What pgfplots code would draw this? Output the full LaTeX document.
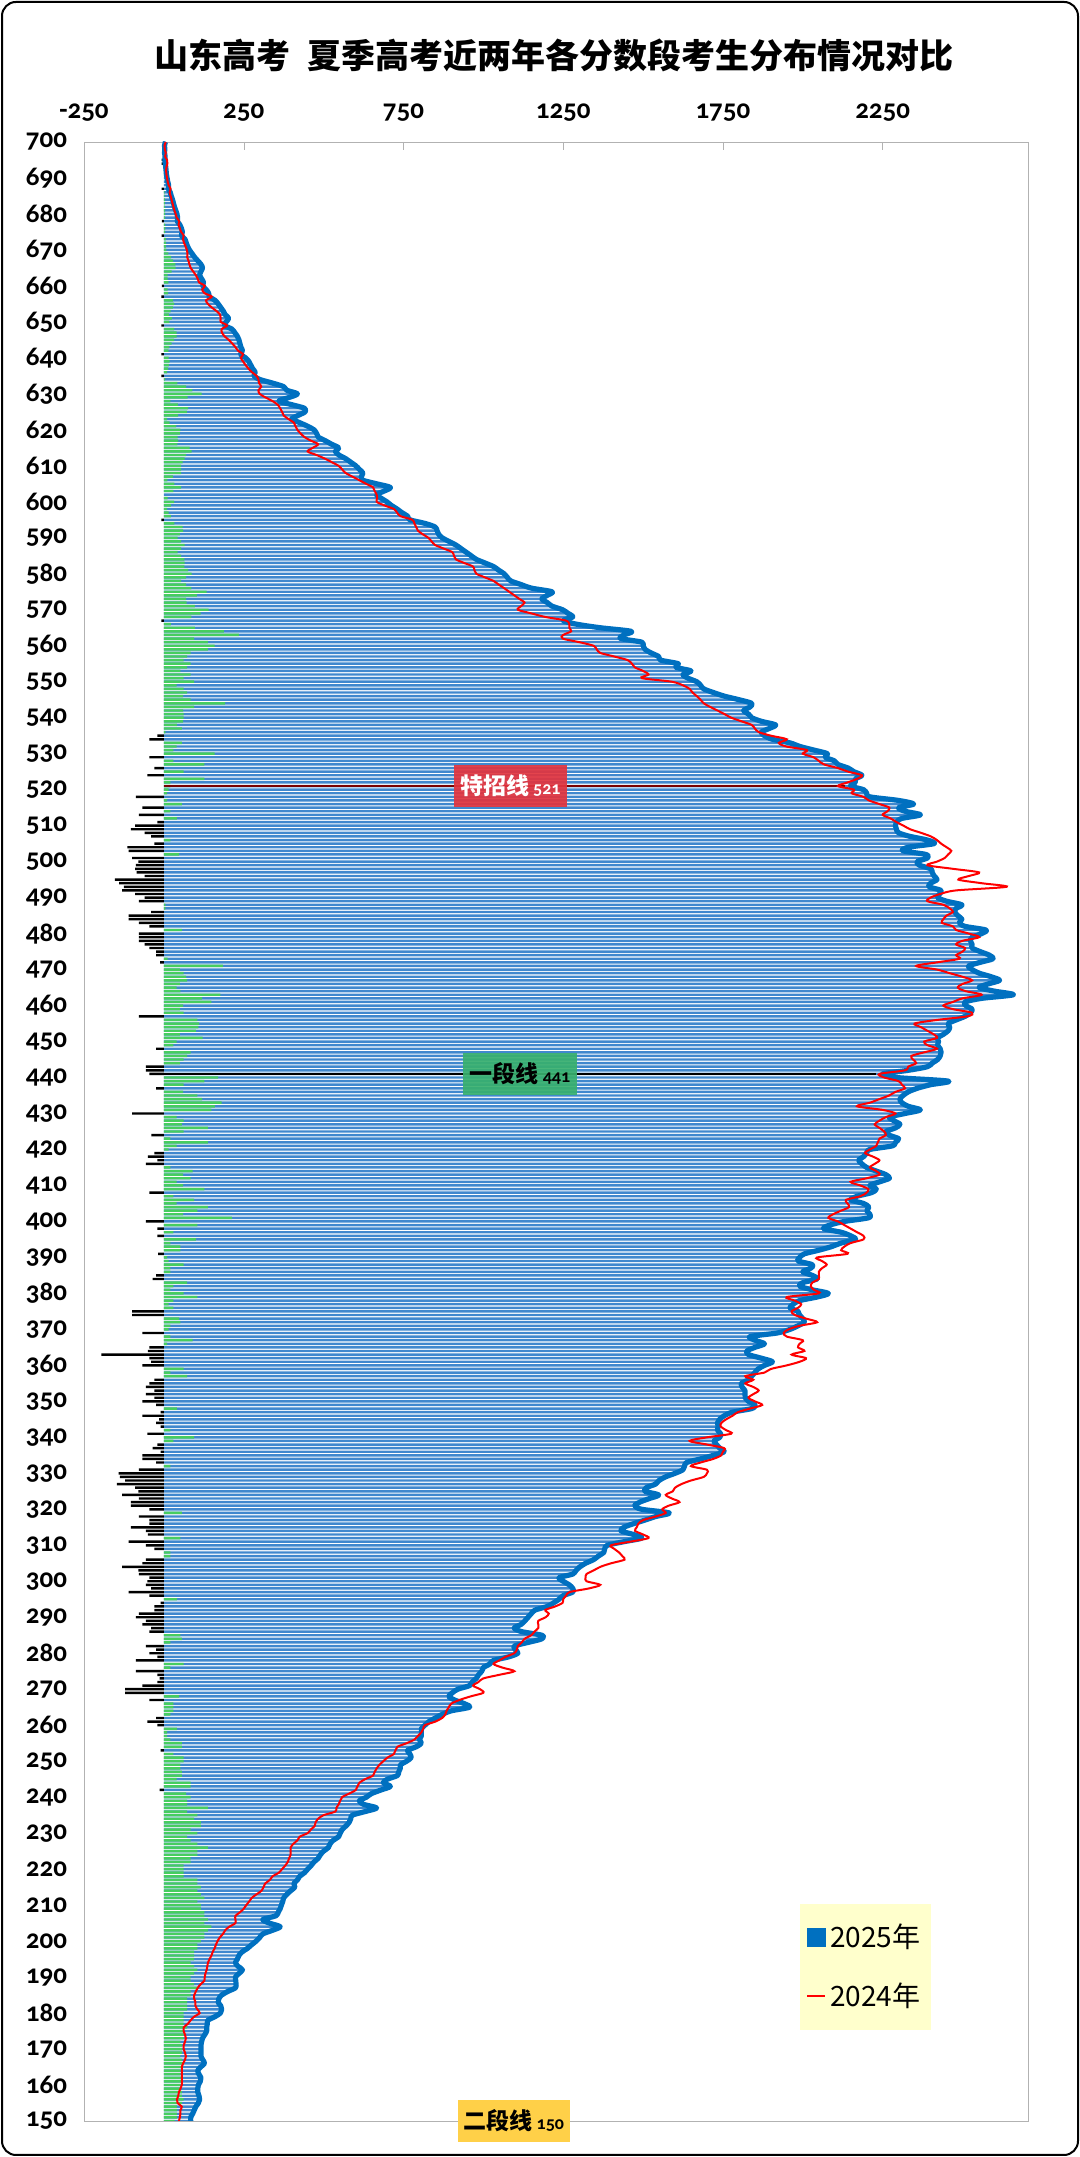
\documentclass[border=0pt]{standalone}
\usepackage{pgfplots}
\pgfplotsset{compat=1.18}
\usepackage{pgfplotstable}
\usepackage{fontspec}
\setmainfont{Carlito}
\newfontfamily\cjk{Noto Sans CJK SC}
\newfontfamily\tickfont{Carlito}[Numbers=OldStyle]
\definecolor{barblue}{RGB}{64,136,206}
\definecolor{lineblue}{RGB}{0,112,192}
\definecolor{diffgreen}{RGB}{70,205,95}
\definecolor{legyellow}{RGB}{255,255,204}
\definecolor{boxred}{RGB}{226,52,62}
\definecolor{boxgreen}{RGB}{56,176,110}
\definecolor{boxyellow}{RGB}{255,208,72}
\definecolor{linered}{RGB}{120,0,0}

\pgfplotstableread{
s b r d
700 5 6 -1
699 2 2 0
698 3 3 0
697 2 6 -4
696 4 4 0
695 3 10 -7
694 4 11 -7
693 6 8 -2
692 7 7 0
691 8 8 0
690 10 10 0
689 12 12 0
688 15 15 0
687 14 21 -7
686 20 18 2
685 23 21 2
684 27 24 3
683 30 27 3
682 33 30 3
681 37 33 4
680 41 37 4
679 43 40 3
678 42 48 -6
677 50 46 4
676 55 50 5
675 58 54 4
674 55 62 -7
673 66 60 6
672 70 63 7
671 74 68 6
670 80 72 8
669 88 74 14
668 96 73 23
667 106 77 29
666 116 80 36
665 121 84 37
664 116 92 24
663 112 100 12
662 118 106 12
661 124 110 14
660 122 128 -6
659 132 120 12
658 140 127 13
657 142 150 -8
656 160 132 28
655 170 138 32
654 178 150 28
653 186 165 21
652 192 176 16
651 203 178 25
650 195 178 17
649 190 198 -8
648 213 181 32
647 222 182 40
646 230 190 40
645 235 203 32
644 238 214 24
643 241 224 17
642 246 232 14
641 240 248 -8
640 256 241 15
639 266 248 18
638 272 256 16
637 278 265 13
636 286 276 10
635 282 290 -8
634 300 296 4
633 340 298 42
632 375 305 70
631 385 296 89
630 418 300 118
629 392 318 74
628 360 340 20
627 400 356 44
626 440 364 76
625 442 370 72
624 420 375 45
623 400 390 10
622 425 407 18
621 450 412 38
620 470 418 52
619 478 428 50
618 483 440 43
617 505 460 45
616 525 483 42
615 547 466 81
614 537 450 87
613 548 478 70
612 569 504 65
611 585 526 59
610 601 547 54
609 612 558 54
608 623 569 54
607 618 590 28
606 623 612 11
605 666 633 33
604 709 655 54
603 690 660 30
602 666 666 0
601 680 668 12
600 698 666 32
599 712 690 22
598 730 720 10
597 745 730 15
596 763 741 22
595 770 778 -8
594 817 784 33
593 849 790 59
592 855 795 60
591 860 810 50
590 871 828 43
589 892 838 54
588 914 849 65
587 930 876 54
586 946 903 43
585 962 908 54
584 978 914 64
583 1005 940 65
582 1032 968 64
581 1048 972 76
580 1065 978 87
579 1075 1005 70
578 1086 1032 54
577 1118 1048 70
576 1151 1065 86
575 1215 1081 134
574 1200 1097 103
573 1183 1113 70
572 1200 1129 71
571 1215 1118 97
570 1248 1108 140
569 1265 1150 115
568 1280 1194 86
567 1250 1258 -8
566 1291 1269 22
565 1366 1269 97
564 1463 1275 188
563 1440 1250 235
562 1430 1248 95
561 1496 1300 138
560 1500 1345 159
559 1506 1355 138
558 1525 1366 84
557 1549 1410 73
556 1555 1452 62
555 1610 1465 84
554 1603 1474 73
553 1650 1500 52
552 1625 1517 84
551 1640 1496 62
550 1668 1590 95
549 1680 1625 40
548 1690 1646 62
547 1720 1655 73
546 1754 1668 60
545 1800 1680 84
544 1840 1690 192
543 1835 1710 95
542 1815 1733 60
541 1830 1755 62
540 1840 1776 62
539 1870 1808 60
538 1915 1840 41
537 1895 1850 56
536 1870 1862 5
535 1880 1900 -20
534 1905 1950 -45
533 1960 1925 56
532 1991 1948 40
531 2035 2013 30
530 2077 2000 159
529 2070 2034 -45
528 2099 2050 30
527 2110 2067 127
526 2142 2110 -30
525 2160 2142 62
524 2185 2185 -52
523 2165 2170 127
522 2164 2140 20
521 2150 2110 20
520 2190 2160 15
519 2200 2153 10
518 2210 2190 -88
517 2300 2207 10
516 2347 2240 56
515 2300 2271 -67
514 2320 2265 20
513 2368 2250 -78
512 2310 2275 41
511 2293 2293 -20
510 2290 2315 -90
509 2293 2336 -103
508 2300 2370 -60
507 2336 2401 -40
506 2390 2420 20
505 2411 2433 -30
504 2330 2450 -114
503 2314 2465 -110
502 2385 2455 48
501 2390 2444 -99
500 2358 2420 -80
499 2365 2390 -88
498 2401 2470 -90
497 2405 2552 -85
496 2411 2520 -60
495 2420 2487 -153
494 2400 2560 -140
493 2395 2638 -125
492 2433 2480 -131
491 2428 2430 -90
490 2422 2400 -60
489 2450 2390 -78
488 2498 2440 5
487 2480 2460 5
486 2476 2470 -40
485 2485 2450 -110
484 2498 2440 -110
483 2490 2435 -78
482 2508 2470 -45
481 2573 2480 56
480 2560 2520 -78
479 2530 2552 -78
478 2525 2500 -78
477 2530 2480 -60
476 2530 2508 -45
475 2555 2500 -24
474 2584 2480 -24
473 2595 2490 12
472 2555 2420 -12
471 2519 2355 185
470 2530 2420 50
469 2552 2460 62
468 2590 2500 70
467 2616 2530 73
466 2580 2500 50
465 2552 2485 40
464 2600 2510 52
463 2659 2560 177
462 2560 2500 120
461 2508 2470 149
460 2510 2440 60
459 2530 2470 50
458 2525 2530 62
457 2508 2515 -78
456 2480 2420 105
455 2455 2350 110
454 2460 2370 108
453 2455 2390 100
452 2440 2410 50
451 2422 2420 121
450 2425 2380 40
449 2422 2390 30
448 2430 2420 -24
447 2433 2380 84
446 2430 2340 73
445 2422 2345 62
444 2405 2355 50
443 2390 2330 -56
442 2330 2320 -56
441 2250 2240 -45
440 2293 2255 170
439 2455 2300 127
438 2400 2310 62
437 2358 2320 -24
436 2330 2290 60
435 2314 2270 105
434 2304 2240 120
433 2310 2210 181
432 2330 2170 160
431 2368 2250 149
430 2320 2290 -99
429 2271 2260 40
428 2285 2240 62
427 2304 2225 56
426 2290 2240 138
425 2260 2255 62
424 2270 2260 -39
423 2300 2240 20
422 2290 2235 138
421 2280 2230 40
420 2210 2210 15
419 2200 2195 -30
418 2190 2220 -50
417 2175 2240 -20
416 2185 2225 -56
415 2200 2210 20
414 2230 2230 90
413 2260 2240 60
412 2271 2200 84
411 2240 2150 40
410 2210 2180 60
409 2230 2205 127
408 2215 2200 -45
407 2170 2180 30
406 2150 2135 95
405 2190 2140 40
404 2207 2145 138
403 2200 2120 105
402 2210 2095 60
401 2205 2080 213
400 2130 2110 -56
399 2085 2130 105
398 2065 2150 -20
397 2120 2170 30
396 2150 2190 -20
395 2165 2190 100
394 2120 2150 20
393 2090 2130 52
392 2050 2120 52
391 2005 2140 -18
390 1990 2045 10
389 1985 2060 15
388 2030 2075 62
387 2025 2060 20
386 2000 2050 20
385 2030 2050 -24
384 2045 2050 -35
383 2000 2030 73
382 1990 2025 30
381 2030 2035 20
380 2080 2050 62
379 2045 1950 105
378 1990 1975 30
377 1970 1995 15
376 1960 1985 30
375 1985 1965 -99
374 1990 1975 -99
373 2000 2010 48
372 2005 2045 52
371 1985 1990 20
370 1960 1955 15
369 1920 1940 -67
368 1835 1950 20
367 1850 2000 90
366 1880 1990 10
365 1850 1985 -45
364 1825 2005 -50
363 1830 1965 -196
362 1870 2010 -45
361 1905 1990 -40
360 1880 1950 -67
359 1860 1900 62
358 1850 1880 20
357 1840 1820 73
356 1830 1845 -30
355 1808 1820 -45
354 1810 1845 -56
353 1819 1862 -30
352 1819 1845 -56
351 1820 1830 -30
350 1830 1850 -67
349 1851 1873 -24
348 1840 1835 41
347 1780 1797 -10
346 1754 1780 -67
345 1740 1760 -15
344 1733 1745 -24
343 1735 1743 -10
342 1733 1760 20
341 1743 1776 -52
340 1740 1700 95
339 1722 1646 30
338 1730 1700 -20
337 1740 1754 -35
336 1754 1750 -10
335 1720 1745 -67
334 1680 1720 -67
333 1636 1680 -24
332 1630 1650 20
331 1625 1700 -78
330 1600 1700 -142
329 1570 1690 -138
328 1550 1650 -121
327 1539 1620 -147
326 1510 1600 -90
325 1506 1593 -80
324 1549 1571 -131
323 1520 1590 -78
322 1490 1614 -103
321 1474 1580 -103
320 1496 1560 -45
319 1582 1571 56
318 1540 1540 -78
317 1506 1500 -45
316 1470 1485 -45
315 1440 1480 -103
314 1431 1475 -56
313 1470 1500 -50
312 1496 1517 52
311 1440 1460 -110
310 1388 1400 -56
309 1380 1410 -30
308 1377 1425 20
307 1360 1435 20
306 1345 1442 -56
305 1320 1400 -67
304 1302 1366 -131
303 1290 1345 -80
302 1280 1323 -78
301 1237 1320 -45
300 1250 1323 -52
299 1269 1366 -56
298 1280 1330 -40
297 1280 1270 -110
296 1250 1259 -45
295 1237 1250 41
294 1220 1248 -10
293 1200 1225 -30
292 1162 1194 -30
291 1150 1205 -78
290 1140 1195 -88
289 1130 1172 -56
288 1118 1172 -67
287 1097 1172 -40
286 1120 1160 -45
285 1183 1150 52
284 1183 1129 56
283 1140 1120 20
282 1097 1108 -56
281 1100 1105 -24
280 1108 1097 -45
279 1080 1070 -20
278 1032 1050 -88
277 1020 1032 62
276 1000 1060 20
275 995 1097 -88
274 985 1050 -20
273 978 1000 -13
272 965 985 -20
271 957 968 -67
270 920 990 -121
269 903 1000 -121
268 892 960 48
267 910 925 -45
266 940 900 30
265 957 892 30
264 900 885 30
263 871 881 20
262 850 871 -24
261 830 850 -52
260 817 817 -20
259 806 812 41
258 806 806 10
257 806 795 10
256 800 784 20
255 806 760 56
254 790 731 56
253 763 725 -10
252 770 720 30
251 774 700 62
250 760 687 62
249 741 675 52
248 740 666 52
247 735 660 56
246 731 655 56
245 700 630 40
244 687 612 84
243 709 606 84
242 680 601 -13
241 650 580 70
240 634 558 84
239 612 552 73
238 625 547 73
237 666 540 138
236 630 537 73
235 590 500 105
234 585 483 95
233 580 475 116
232 570 472 116
231 558 460 84
230 552 450 105
229 547 425 73
228 530 418 84
227 520 405 105
226 515 397 138
225 500 397 105
224 490 397 105
223 483 392 84
222 470 388 84
221 461 380 62
220 450 370 62
219 440 360 62
218 425 340 62
217 418 332 105
216 407 317 105
215 410 312 116
214 397 306 105
213 385 290 116
212 375 275 127
211 372 267 105
210 368 258 116
209 364 250 116
208 358 238 127
207 350 224 127
206 310 224 138
205 330 224 127
204 364 205 149
203 340 192 138
202 310 185 127
201 300 175 127
200 289 168 116
199 275 163 105
198 262 159 105
197 245 153 95
196 235 149 95
195 230 143 95
194 224 138 84
193 232 136 95
192 246 134 105
191 235 130 95
190 224 128 84
189 225 127 84
188 226 115 95
187 224 106 105
186 200 100 84
185 181 95 84
184 172 95 73
183 170 99 73
182 178 99 73
181 181 105 73
180 177 112 62
179 160 95 62
178 138 84 62
177 136 75 62
176 134 62 73
175 134 62 62
174 128 66 62
173 121 69 62
172 118 66 52
171 116 62 56
170 116 62 56
169 116 66 56
168 116 69 52
167 122 66 56
166 127 60 62
165 115 56 56
164 106 56 52
163 110 56 52
162 116 56 56
161 114 56 56
160 108 56 52
159 106 52 52
158 106 47 56
157 110 45 56
156 112 41 62
155 108 43 56
154 100 56 41
153 95 52 41
152 90 52 41
151 84 50 41
150 84 47 34
}\data

\begin{document}
\begin{tikzpicture}
\path[use as bounding box] (0pt,0pt) rectangle (540pt,1078.5pt);
\node[font=\cjk\bfseries\fontsize{17}{18}\selectfont] at (277pt,1051pt) {山东高考\hspace{0.5em}夏季高考近两年各分数段考生分布情况对比};
\begin{axis}[at={(42pt,18pt)}, anchor=south west, scale only axis,
  width=472pt, height=989.5pt,
  xmin=-250, xmax=2705, ymin=150, ymax=700,
  xtick={-250,250,...,2250}, ytick={150,160,...,700},
  xticklabel pos=upper, xtick pos=upper, tick align=inside, major tick length=4pt,
  ytick style={draw=none}, xtick style={gray!60},
  axis line style={gray!60},
  /pgf/number format/assume math mode=true, /pgf/number format/1000 sep={},
  ticklabel style={font=\tickfont\bfseries\fontsize{13.5}{13.5}\selectfont},
  xticklabel style={yshift=7pt},
  yticklabel style={xshift=-5pt},
  clip mode=individual,
  legend style={at={(0.758,0.1097)}, anchor=north west, fill=legyellow, draw=none,
    font=\cjk\fontsize{14}{14}\selectfont, inner xsep=3pt, inner ysep=8pt, row sep=12pt},
  legend cell align=left,
]
\addplot[xbar, bar width=0.68, bar shift=0pt, fill=barblue, draw=none, forget plot] table[x=b,y=s]{\data};
\addplot[xbar, bar width=0.68, bar shift=0pt, fill=diffgreen, draw=none, forget plot, restrict x to domain=0.5:5000] table[x=d,y=s]{\data};
\addplot[xbar, bar width=0.68, bar shift=0pt, fill=black, draw=none, forget plot, restrict x to domain=-5000:-0.5] table[x=d,y=s]{\data};
\addplot[linered, line width=1pt, forget plot] coordinates {(0,521) (2131,521)};
\addplot[black, line width=1pt, forget plot] coordinates {(0,441) (2228,441)};
\addplot[lineblue, line width=2.6pt, smooth, line join=round, forget plot] table[x=b,y=s]{\data};
\addplot[red, line width=1pt, smooth, forget plot] table[x=r,y=s]{\data};
\addlegendimage{legend image code/.code={\fill[lineblue] (0pt,-4.5pt) rectangle (9pt,4.5pt);}}
\addlegendentry{2025年}
\addlegendimage{legend image code/.code={\draw[red, line width=1.2pt] (0pt,0pt) -- (9pt,0pt);}}
\addlegendentry{2024年}
\coordinate (t521) at (axis cs:1085,521);
\coordinate (t441) at (axis cs:1115,441);
\coordinate (t150) at (axis cs:1096,150);
\end{axis}
\node[fill=boxred, fill opacity=0.92, text opacity=1, text=white, minimum width=56.5pt, minimum height=21pt, inner sep=1pt,
  font=\cjk\bfseries\fontsize{11.5}{12}\selectfont] at (t521) {特招线\,{\tickfont\bfseries\fontsize{9}{9}\selectfont 521}};
\node[fill=boxgreen, fill opacity=0.92, text opacity=1, text=black, minimum width=57pt, minimum height=21pt, inner sep=1pt,
  font=\cjk\bfseries\fontsize{11.5}{12}\selectfont] at (t441) {一段线\,{\tickfont\bfseries\fontsize{9}{9}\selectfont 441}};
\node[fill=boxyellow, text=black, minimum width=56pt, minimum height=21pt, inner sep=1pt,
  font=\cjk\bfseries\fontsize{11.5}{12}\selectfont] at (t150) {二段线\,{\tickfont\bfseries\fontsize{9}{9}\selectfont 150}};
\draw[line width=1pt, rounded corners=7pt] (1pt,1pt) rectangle (539pt,1077.5pt);
\end{tikzpicture}
\end{document}
